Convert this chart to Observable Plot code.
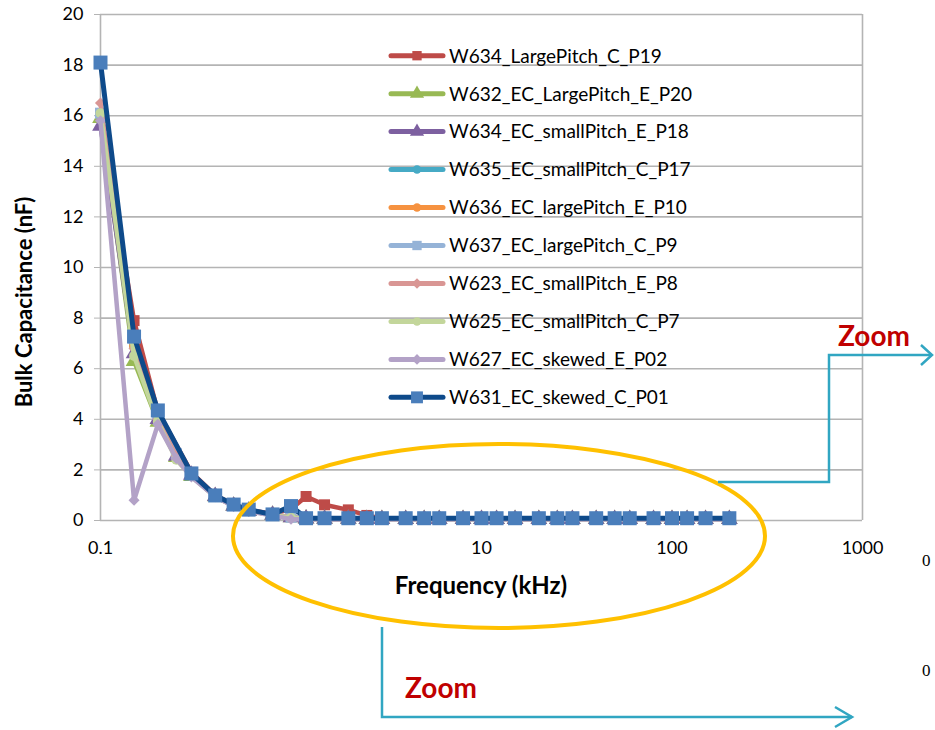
<!DOCTYPE html>
<html><head><meta charset="utf-8">
<script src="https://cdn.jsdelivr.net/npm/d3@7"></script>
<script src="https://cdn.jsdelivr.net/npm/@observablehq/plot@0.6"></script>
<style>body{margin:0;background:#fff;} svg{display:block}</style>
</head><body><div id="chart"></div>
<script>
// ---------------- data ----------------
const freqs = [0.1, 0.15, 0.2, 0.25, 0.3, 0.4, 0.5, 0.6, 0.8, 1, 1.2, 1.5, 2, 2.5, 3, 4, 5, 6, 8, 10, 12, 15, 20, 25, 30, 40, 50, 60, 80, 100, 120, 150, 200];

const seriesNames = ["W634_LargePitch_C_P19", "W632_EC_LargePitch_E_P20", "W634_EC_smallPitch_E_P18", "W635_EC_smallPitch_C_P17", "W636_EC_largePitch_E_P10", "W637_EC_largePitch_C_P9", "W623_EC_smallPitch_E_P8", "W625_EC_smallPitch_C_P7", "W627_EC_skewed_E_P02", "W631_EC_skewed_C_P01"];

const w634LargeC_P19 = [16.0, 7.9, 4.3, null, 1.9, 1.0, 0.62, 0.42, 0.26, 0.45, 0.95, 0.62, 0.42, 0.2, 0.08, 0.07, 0.07, 0.07, 0.07, 0.07, 0.07, 0.07, 0.07, 0.07, 0.07, 0.07, 0.07, 0.07, 0.07, 0.07, 0.07, 0.07, 0.07];
const w632LargeE_P20 = [15.9, 6.3, 3.9, 2.5, 1.75, 0.95, 0.58, 0.38, 0.22, 0.12, 0.07, 0.06, 0.06, 0.05, 0.05, 0.05, 0.05, 0.05, 0.05, 0.05, 0.05, 0.05, 0.05, 0.05, 0.05, 0.05, 0.05, 0.05, 0.05, 0.05, 0.05, 0.05, 0.05];
const w634SmallE_P18 = [15.6, 6.6, 4.0, 2.55, 1.8, 0.96, 0.58, 0.38, 0.22, 0.12, 0.07, 0.06, 0.06, 0.05, 0.05, 0.05, 0.05, 0.05, 0.05, 0.05, 0.05, 0.05, 0.05, 0.05, 0.05, 0.05, 0.05, 0.05, 0.05, 0.05, 0.05, 0.05, 0.05];
const w635SmallC_P17 = [16.0, 6.9, 4.1, 2.6, 1.8, 0.97, 0.59, 0.39, 0.23, 0.12, 0.07, 0.06, 0.06, 0.05, 0.05, 0.05, 0.05, 0.05, 0.05, 0.05, 0.05, 0.05, 0.05, 0.05, 0.05, 0.05, 0.05, 0.05, 0.05, 0.05, 0.05, 0.05, 0.05];
const w636LargeE_P10 = [16.0, 6.9, 4.1, 2.6, 1.82, 0.97, 0.59, 0.39, 0.23, 0.12, 0.07, 0.06, 0.06, 0.05, 0.05, 0.05, 0.05, 0.05, 0.05, 0.05, 0.05, 0.05, 0.05, 0.05, 0.05, 0.05, 0.05, 0.05, 0.05, 0.05, 0.05, 0.05, 0.05];
const w637LargeC_P9  = [16.1, 7.2, 4.2, 2.65, 1.83, 0.98, 0.6, 0.4, 0.23, 0.13, 0.07, 0.06, 0.06, 0.05, 0.05, 0.05, 0.05, 0.05, 0.05, 0.05, 0.05, 0.05, 0.05, 0.05, 0.05, 0.05, 0.05, 0.05, 0.05, 0.05, 0.05, 0.05, 0.05];
const w623SmallE_P8  = [16.5, 6.8, 4.0, 2.55, 1.8, 0.96, 0.58, 0.38, 0.22, 0.12, 0.07, 0.06, 0.06, 0.05, 0.05, 0.05, 0.05, 0.05, 0.05, 0.05, 0.05, 0.05, 0.05, 0.05, 0.05, 0.05, 0.05, 0.05, 0.05, 0.05, 0.05, 0.05, 0.05];
const w625SmallC_P7  = [16.1, 6.5, 3.9, 2.4, 1.75, 0.95, 0.57, 0.37, 0.21, 0.11, 0.06, 0.05, 0.05, 0.04, 0.04, 0.04, 0.04, 0.04, 0.04, 0.04, 0.04, 0.04, 0.04, 0.04, 0.04, 0.04, 0.04, 0.04, 0.04, 0.04, 0.04, 0.04, 0.04];
const w627SkewedE_P02 = [15.8, 0.8, 3.8, 2.45, 1.72, 0.94, 0.56, 0.36, 0.2, 0.05, 0.05, 0.04, 0.04, 0.04, 0.04, 0.04, 0.04, 0.04, 0.04, 0.04, 0.04, 0.04, 0.04, 0.04, 0.04, 0.04, 0.04, 0.04, 0.04, 0.04, 0.04, 0.04, 0.04];
const w631SkewedC_P01 = [18.1, 7.27, 4.35, null, 1.86, 0.99, 0.63, 0.43, 0.24, 0.57, 0.09, 0.09, 0.09, 0.09, 0.09, 0.09, 0.09, 0.09, 0.09, 0.09, 0.09, 0.09, 0.09, 0.09, 0.09, 0.09, 0.09, 0.09, 0.09, 0.09, 0.09, 0.09, 0.09];

const seriesValues = [w634LargeC_P19, w632LargeE_P20, w634SmallE_P18, w635SmallC_P17, w636LargeE_P10, w637LargeC_P9, w623SmallE_P8, w625SmallC_P7, w627SkewedE_P02, w631SkewedC_P01];

const yTicks = [0, 2, 4, 6, 8, 10, 12, 14, 16, 18, 20];
const xTicks = [0.1, 1, 10, 100, 1000];
const xTickLabels = ["0.1", "1", "10", "100", "1000"];
const xTitle = "Frequency (kHz)";
const yTitle = "Bulk Capacitance (nF)";
const zoomLabel = "Zoom";
const strayLabel = "0";

// ---------------- styles ----------------
const lineColors   = ["#BE4B48", "#98B954", "#7D60A0", "#46AAC5", "#F69240", "#95B3D7", "#D99694", "#C3D69B", "#B3A2C7", "#0E4A8A"];
const markerColors = ["#BE4B48", "#98B954", "#7D60A0", "#46AAC5", "#F69240", "#95B3D7", "#D99694", "#C3D69B", "#B3A2C7", "#4A7EBB"];
const symbols = ["square", "triangle", "triangle", "circle", "circle", "square", "diamond2", "circle", "diamond2", "square"];
const markerR = [6.2, 6.2, 6.2, 5, 5, 6.2, 5, 5, 5, 7.9];
const lineW = [4.5, 4.5, 4.5, 4.5, 4.5, 4.5, 4.5, 4.5, 4.5, 5];

// ---------------- build rows ----------------
const tables = seriesValues.map((vals, i) =>
  freqs.map((f, j) => ({f, v: vals[j], name: seriesNames[i]})).filter(d => d.v != null)
);

const marks = [
  Plot.ruleY(yTicks, {stroke: "#b4b4b4", strokeWidth: 1.6}),
  Plot.ruleX([0.1, 1000], {stroke: "#b4b4b4", strokeWidth: 1.6}),
  Plot.axisY({ticks: yTicks, tickSize: 6, tickPadding: 11, stroke: "#b4b4b4", fill: "#000", label: null}),
  Plot.axisX({ticks: xTicks, tickFormat: (d) => xTickLabels[xTicks.indexOf(d)], tickSize: 0, tickPadding: 21, fill: "#000", label: null})
];
tables.forEach((t, i) => {
  marks.push(Plot.line(t, {x: "f", y: "v", stroke: lineColors[i], strokeWidth: lineW[i], strokeLinejoin: "round"}));
  marks.push(Plot.dot(t, {x: "f", y: "v", symbol: symbols[i], r: markerR[i], fill: markerColors[i], stroke: null}));
});

const svgNode = Plot.plot({
  width: 935,
  height: 730,
  marginLeft: 100,
  marginRight: 73,
  marginTop: 14,
  marginBottom: 210,
  style: {fontFamily: "Lato", fontSize: "18px", background: "#fff", overflow: "hidden"},
  x: {type: "log", domain: [0.1, 1000]},
  y: {domain: [0, 20]},
  marks
});
document.getElementById("chart").appendChild(svgNode);

// ---------------- overlay: legend, titles, annotations ----------------
const svg = d3.select(svgNode);
const lg = svg.append("g").attr("text-anchor", "start");
const symMap = {square: d3.symbolSquare, triangle: d3.symbolTriangle, circle: d3.symbolCircle, diamond2: d3.symbolSquare};
seriesNames.forEach((name, i) => {
  const yy = 55.7 + i * 37.96;
  lg.append("line").attr("x1", 391).attr("x2", 443).attr("y1", yy).attr("y2", yy)
    .attr("stroke", lineColors[i]).attr("stroke-width", 5).attr("stroke-linecap", "round");
  const r = markerR[i] * 0.85;
  lg.append("path").attr("d", d3.symbol(symMap[symbols[i]], r * r * Math.PI)())
    .attr("transform", `translate(417,${yy})` + (symbols[i] === "diamond2" ? " rotate(45)" : ""))
    .attr("fill", markerColors[i]);
  lg.append("text").attr("x", 449).attr("y", yy).attr("dy", "0.36em").attr("text-anchor", "start")
    .attr("font-family", "Lato").attr("font-size", 19).attr("fill", "#000").text(name);
});

svg.append("text").attr("transform", "translate(32,302) rotate(-90)").attr("text-anchor", "middle")
  .attr("font-family", "Lato").attr("font-weight", "bold").attr("font-size", 22).attr("fill", "#000").text(yTitle);
svg.append("text").attr("x", 481).attr("y", 594).attr("text-anchor", "middle")
  .attr("font-family", "Lato").attr("font-weight", "bold").attr("font-size", 24).attr("fill", "#000").text(xTitle);

// yellow ellipse
svg.append("ellipse").attr("cx", 499).attr("cy", 536).attr("rx", 266).attr("ry", 92)
  .attr("fill", "none").attr("stroke", "#FFC000").attr("stroke-width", 4);

// cyan arrows
const cyan = "#31A6C2";
svg.append("path").attr("d", "M718,482 H829 V355 H932").attr("fill", "none").attr("stroke", cyan).attr("stroke-width", 2.5);
svg.append("path").attr("d", "M921,345 L932,355 L921,365").attr("fill", "none").attr("stroke", cyan).attr("stroke-width", 2.5);
svg.append("path").attr("d", "M382,627 V717 H852").attr("fill", "none").attr("stroke", cyan).attr("stroke-width", 2.5);
svg.append("path").attr("d", "M835,707 L852,717 L835,727").attr("fill", "none").attr("stroke", cyan).attr("stroke-width", 2.5);

svg.append("text").attr("x", 838).attr("y", 346).attr("text-anchor", "start").attr("font-family", "Lato").attr("font-weight", "bold")
  .attr("font-size", 28).attr("fill", "#C00000").text(zoomLabel);
svg.append("text").attr("x", 405).attr("y", 698).attr("text-anchor", "start").attr("font-family", "Lato").attr("font-weight", "bold")
  .attr("font-size", 28).attr("fill", "#C00000").text(zoomLabel);

// stray labels at the right edge
svg.append("text").attr("x", 922).attr("y", 566).attr("text-anchor", "start").attr("font-family", "Liberation Serif").attr("font-size", 17).attr("fill", "#000").text(strayLabel);
svg.append("text").attr("x", 922).attr("y", 676).attr("text-anchor", "start").attr("font-family", "Liberation Serif").attr("font-size", 17).attr("fill", "#000").text(strayLabel);
</script>
</body></html>
